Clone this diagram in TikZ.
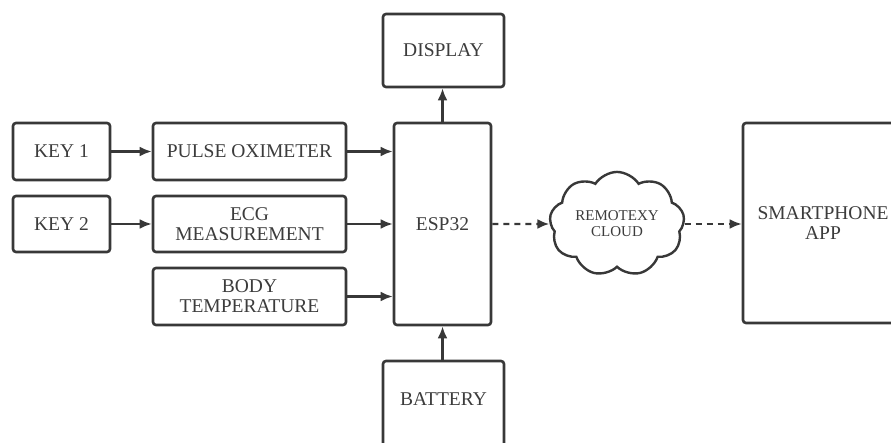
\documentclass[tikz,border=0pt]{standalone}
\usepackage{fontspec}
\setmainfont{Liberation Serif}
\usepackage{tikz}
\usetikzlibrary{shapes,shapes.symbols,arrows.meta}

\definecolor{edge}{HTML}{383838}
\definecolor{label}{HTML}{3C3C3C}

\tikzset{
  block/.style={rectangle,draw=edge,line width=2.6pt,rounded corners=3pt,fill=white,
    inner sep=0pt,align=center,text=label,font=\fontsize{19.5}{20}\selectfont},
  link/.style={draw=edge,line width=2.4pt,-{Latex[length=12pt,width=10pt]}},
  wifi/.style={link,dash pattern=on 6pt off 5pt}
}

\begin{document}
\begin{tikzpicture}[x=1pt,y=-1pt]
        \useasboundingbox (0,0) rectangle (891,443);
        \clip (0,0) rectangle (891,443);
        \node[block,minimum width=97pt,minimum height=57pt] (key1) at (61.5,151.5){KEY 1};
        \node[block,minimum width=97pt,minimum height=56pt] (key2) at (61.5,224){KEY 2};
        \node[block,minimum width=193pt,minimum height=57pt] (pulse) at (249.5,151.5){PULSE OXIMETER};
        \node[block,minimum width=193pt,minimum height=56pt] (ecg) at (249.5,224){ECG\\MEASUREMENT};
        \node[block,minimum width=193pt,minimum height=57pt] (body) at (249.5,296.5){BODY\\TEMPERATURE};
        \node[block,minimum width=121pt,minimum height=73pt] (display) at (443.5,50.5){DISPLAY};
        \node[block,minimum width=97pt,minimum height=202pt] (esp) at (442.5,224){ESP32};
        \node[block,minimum width=121pt,minimum height=100pt] (battery) at (443.5,411){BATTERY\\[4pt]};
        \node[cloud,cloud puffs=9,cloud puff arc=115,aspect=1.35,draw=edge,line width=2.4pt,
              inner sep=0pt,minimum width=135pt,minimum height=98pt,align=center,text=label,
              font=\fontsize{15}{16}\selectfont] (cloud) at (617,224){REMOTEXY\\CLOUD};
        \node[block,minimum width=160pt,minimum height=200pt] (phone) at (823,223){SMARTPHONE\\APP};
        \draw[link] (key1.east) -- (pulse.west);
        \draw[link] (key2.east) -- (ecg.west);
        \draw[link] (pulse.east) -- (pulse.east -| esp.west);
        \draw[link] (ecg.east) -- (ecg.east -| esp.west);
        \draw[link] (body.east) -- (body.east -| esp.west);
        \draw[link] (esp.north) -- (esp.north |- display.south);
        \draw[link] (battery.north -| esp.south) -- (esp.south);
        \draw[wifi] (esp.east) -- (cloud.west);
        \draw[wifi] (cloud.east) -- (cloud.east -| phone.west);
        \end{tikzpicture}
\end{document}
